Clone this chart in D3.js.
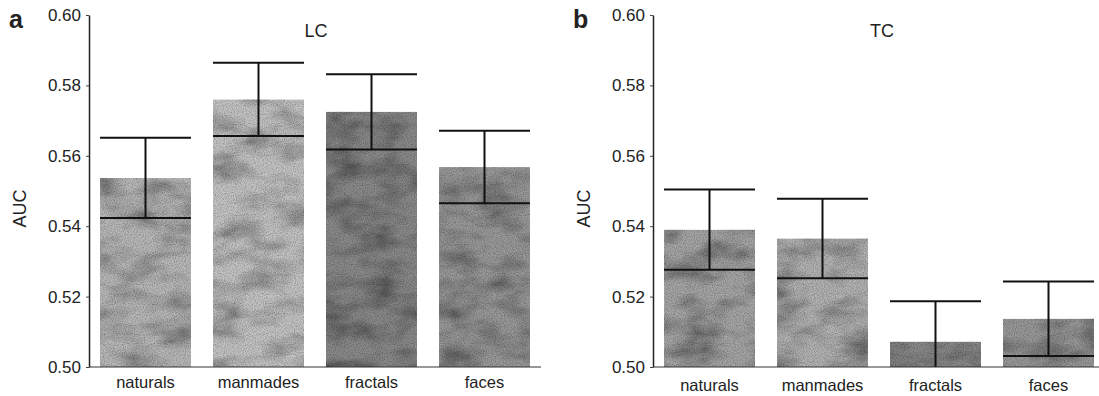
<!DOCTYPE html>
<html>
<head>
<meta charset="utf-8">
<script src="https://cdn.jsdelivr.net/npm/d3@7"></script>
<style>
  body { margin: 0; background: #fff; }
  svg { display: block; font-family: "Liberation Sans", Arial, sans-serif; }
</style>
</head>
<body>
<svg width="1099" height="396"></svg>
<script>
// data
const categories = ["naturals", "manmades", "fractals", "faces"];
const lc_auc = [0.5537, 0.5760, 0.5725, 0.5568];
const lc_err = [0.0114, 0.0104, 0.0107, 0.0103];
const tc_auc = [0.5390, 0.5365, 0.5072, 0.5137];
const tc_err = [0.0114, 0.0113, 0.0115, 0.0106];
const y_ticks = [0.50, 0.52, 0.54, 0.56, 0.58, 0.60];

const svg = d3.select("svg");

// noisy print-like texture for the bars
const defs = svg.append("defs");
const tex = defs.append("filter").attr("id", "tex")
    .attr("x", 0).attr("y", 0).attr("width", 1).attr("height", 1);
tex.append("feTurbulence").attr("type", "fractalNoise")
    .attr("baseFrequency", "0.025 0.05").attr("numOctaves", 3).attr("seed", 4)
    .attr("result", "blot");
tex.append("feColorMatrix").attr("in", "blot").attr("type", "matrix")
    .attr("values", "0 0 0 0 0  0 0 0 0 0  0 0 0 0 0  1.4 0 0 0 -0.55")
    .attr("result", "blotA");
tex.append("feTurbulence").attr("type", "fractalNoise")
    .attr("baseFrequency", "0.9").attr("numOctaves", 1).attr("seed", 9)
    .attr("result", "grain");
tex.append("feColorMatrix").attr("in", "grain").attr("type", "matrix")
    .attr("values", "0 0 0 0 0  0 0 0 0 0  0 0 0 0 0  0 1.2 0 0 -0.45")
    .attr("result", "grainA");
tex.append("feComposite").attr("in", "blotA").attr("in2", "SourceGraphic")
    .attr("operator", "over").attr("result", "c1");
tex.append("feComposite").attr("in", "grainA").attr("in2", "c1")
    .attr("operator", "over").attr("result", "c2");
tex.append("feComposite").attr("in", "c2").attr("in2", "SourceAlpha")
    .attr("operator", "in");

const y_scale = d3.scaleLinear().domain([0.5, 0.6]).range([367, 15]);

const drawPanel = (x0, letter, title, title_x, values, errs, colors, label_y) => {
    const g = svg.append("g");
    const x_scale = d3.scaleBand()
        .domain(categories)
        .range([x0, x0 + 452])
        .paddingInner(0.195)
        .paddingOuter(0.0975);

    const rows = categories.map((c, i) => ({ c: c, v: values[i], e: errs[i], col: colors[i] }));

    g.selectAll("rect.bar")
        .data(rows)
        .enter()
        .append("rect")
        .attr("class", "bar")
        .attr("x", (d) => x_scale(d.c))
        .attr("width", x_scale.bandwidth())
        .attr("y", (d) => y_scale(d.v))
        .attr("height", (d) => y_scale(0.5) - y_scale(d.v))
        .attr("fill", (d) => d.col)
        .attr("filter", "url(#tex)");

    // error bars: full-width caps, clipped at the baseline
    const lo = (d) => y_scale(Math.max(0.5, d.v - d.e));
    const hi = (d) => y_scale(d.v + d.e);
    const eg = g.selectAll("g.err").data(rows).enter().append("g")
        .attr("stroke", "#111").attr("stroke-width", 2);
    eg.append("line")
        .attr("x1", (d) => x_scale(d.c) + x_scale.bandwidth() / 2)
        .attr("x2", (d) => x_scale(d.c) + x_scale.bandwidth() / 2)
        .attr("y1", lo).attr("y2", hi);
    eg.append("line")
        .attr("x1", (d) => x_scale(d.c)).attr("x2", (d) => x_scale(d.c) + x_scale.bandwidth())
        .attr("y1", hi).attr("y2", hi);
    eg.filter((d) => d.v - d.e > 0.5).append("line")
        .attr("x1", (d) => x_scale(d.c)).attr("x2", (d) => x_scale(d.c) + x_scale.bandwidth())
        .attr("y1", lo).attr("y2", lo);

    // axes
    const y_axis = g.append("g")
        .attr("transform", `translate(${x0},0)`)
        .call(d3.axisLeft(y_scale).tickValues(y_ticks).tickFormat(d3.format(".2f"))
            .tickSize(3).tickSizeOuter(0).tickPadding(5));
    y_axis.select(".domain").attr("stroke", "#222").attr("stroke-width", 1.5);
    y_axis.selectAll(".tick line").attr("stroke", "#444");
    y_axis.selectAll(".tick text").attr("font-size", 17).attr("fill", "#222")
        .attr("font-family", "Liberation Sans, Arial, sans-serif");

    g.append("line")
        .attr("x1", x0).attr("x2", x0 + 452)
        .attr("y1", y_scale(0.5)).attr("y2", y_scale(0.5))
        .attr("stroke", "#333").attr("stroke-width", 1.2);

    g.selectAll("text.cat")
        .data(categories)
        .enter()
        .append("text")
        .attr("class", "cat")
        .attr("x", (d) => x_scale(d) + x_scale.bandwidth() / 2)
        .attr("y", label_y)
        .attr("text-anchor", "middle")
        .attr("font-size", 16.5)
        .attr("fill", "#222")
        .text((d) => d);

    g.append("text")
        .attr("transform", `translate(${x0 - 63},${y_scale(0.545)}) rotate(-90)`)
        .attr("text-anchor", "middle")
        .attr("font-size", 18)
        .attr("fill", "#222")
        .text("AUC");

    g.append("text")
        .attr("x", x0 - 80).attr("y", 28)
        .attr("font-size", 25).attr("font-weight", "bold")
        .attr("fill", "#222")
        .text(letter);

    g.append("text")
        .attr("x", title_x).attr("y", 37)
        .attr("text-anchor", "middle")
        .attr("font-size", 18)
        .attr("fill", "#222")
        .text(title);
};

drawPanel(89, "a", "LC", 316, lc_auc, lc_err, ["#b9b9b9", "#c4c4c4", "#8a8a8a", "#9a9a9a"], 388);
drawPanel(653, "b", "TC", 882, tc_auc, tc_err, ["#a6a6a6", "#b3b3b3", "#8a8a8a", "#999999"], 391);
</script>
</body>
</html>
